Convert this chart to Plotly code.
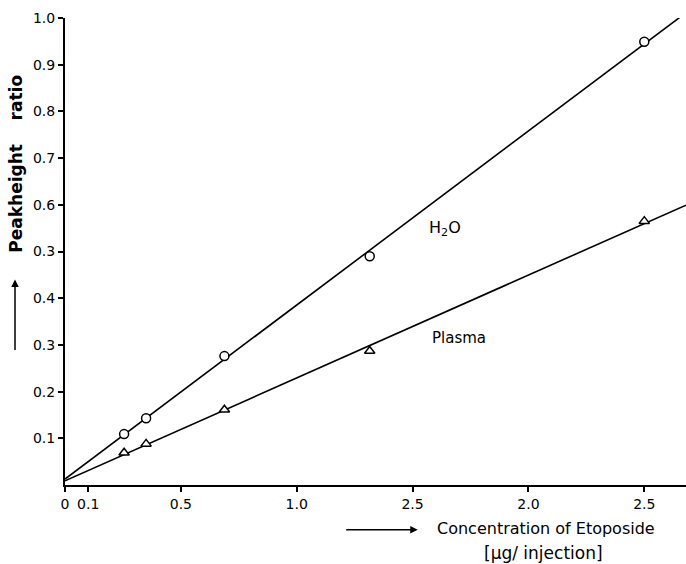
import numpy as np
import plotly.graph_objects as go

# Data
conc_h2o = [0.255, 0.35, 0.688, 1.315, 2.5]
ratio_h2o = [0.109, 0.143, 0.276, 0.490, 0.949]
conc_plasma = [0.255, 0.35, 0.688, 1.315, 2.5]
ratio_plasma = [0.069, 0.088, 0.161, 0.287, 0.565]

x_tickvals = [0, 0.1, 0.5, 1.0, 1.5, 2.0, 2.5]
x_ticktext = ["0", "0.1", "0.5", "1.0", "2.5", "2.0", "2.5"]
y_tickvals = [0.1, 0.2, 0.3, 0.4, 0.5, 0.6, 0.7, 0.8, 0.9, 1.0]
y_ticktext = ["0.1", "0.2", "0.3", "0.4", "0.3", "0.6", "0.7", "0.8", "0.9", "1.0"]

X_MAX = 2.68
FONT = "DejaVu Sans, Verdana, sans-serif"

fig = go.Figure()

for xs, ys in [(conc_h2o, ratio_h2o), (conc_plasma, ratio_plasma)]:
    slope, intercept = np.polyfit(xs, ys, 1)
    lx = np.array([0.0, X_MAX])
    fig.add_trace(go.Scatter(x=lx, y=intercept + slope * lx, mode="lines",
                             line=dict(color="black", width=1.6),
                             showlegend=False, hoverinfo="skip"))

fig.add_trace(go.Scatter(x=conc_h2o, y=ratio_h2o, mode="markers",
                         marker=dict(symbol="circle", size=9, color="white",
                                     line=dict(color="black", width=1.5)),
                         showlegend=False, cliponaxis=False))
fig.add_trace(go.Scatter(x=conc_plasma, y=ratio_plasma, mode="markers",
                         marker=dict(symbol="triangle-up", size=9, color="white",
                                     line=dict(color="black", width=1.5)),
                         showlegend=False, cliponaxis=False))

fig.update_layout(
    width=686, height=564,
    margin=dict(l=65, r=0, t=18, b=79),
    paper_bgcolor="white", plot_bgcolor="white",
    font=dict(family=FONT, size=14, color="black"),
    xaxis=dict(range=[0, X_MAX], tickvals=x_tickvals, ticktext=x_ticktext,
               showgrid=False, zeroline=False, showline=True, linecolor="black",
               linewidth=2, ticks="outside", ticklen=5, tickwidth=1.5,
               tickcolor="black", tickfont=dict(size=14, family=FONT)),
    yaxis=dict(range=[0, 1.0], tickvals=y_tickvals, ticktext=y_ticktext,
               showgrid=False, zeroline=False, showline=True, linecolor="black",
               linewidth=2, ticks="outside", ticklen=5, tickwidth=1.5,
               tickcolor="black", tickfont=dict(size=14, family=FONT)),
    annotations=[
        dict(x=1.64, y=0.55, xref="x", yref="y", text="H<sub>2</sub>O",
             showarrow=False, font=dict(size=16), xanchor="center", yanchor="middle"),
        dict(x=1.70, y=0.315, xref="x", yref="y", text="Plasma",
             showarrow=False, font=dict(size=15), xanchor="center", yanchor="middle"),
        dict(x=-0.0789, y=0.688, xref="paper", yref="paper",
             text="<b>Peakheight    ratio</b>", xanchor="center", yanchor="middle",
             textangle=-90, showarrow=False, font=dict(size=17)),
        dict(x=-0.0805, y=0.44, xref="paper", yref="paper", text="",
             showarrow=True, ax=0, ay=72, arrowhead=2, arrowsize=1,
             arrowwidth=1.5, arrowcolor="black"),
        dict(x=0.568, y=-0.096, xref="paper", yref="paper", text="",
             showarrow=True, ax=-73, ay=0, arrowhead=2, arrowsize=1,
             arrowwidth=1.5, arrowcolor="black"),
        dict(x=0.775, y=-0.094, xref="paper", yref="paper",
             text="Concentration of Etoposide", showarrow=False,
             xanchor="center", yanchor="middle", font=dict(size=16)),
        dict(x=0.77, y=-0.146, xref="paper", yref="paper",
             text="[μg/ injection]", showarrow=False,
             xanchor="center", yanchor="middle", font=dict(size=17)),
    ],
)

fig.write_html("out.html", config={"displayModeBar": False},
               post_script="document.body.style.margin='0';document.body.style.overflow='hidden';")
